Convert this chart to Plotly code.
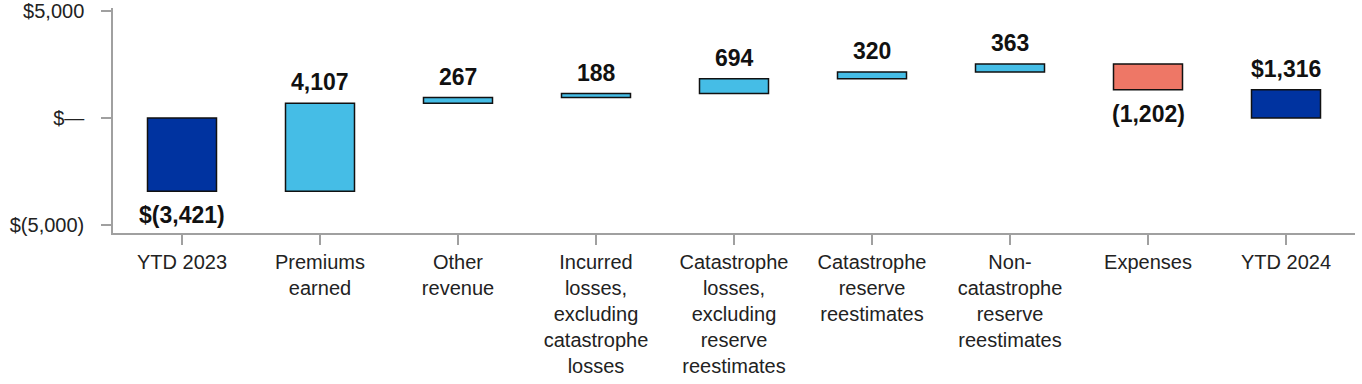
import plotly.graph_objects as go

categories = ["YTD 2023", "Premiums<br>earned", "Other<br>revenue",
              "Incurred<br>losses,<br>excluding<br>catastrophe<br>losses",
              "Catastrophe<br>losses,<br>excluding<br>reserve<br>reestimates",
              "Catastrophe<br>reserve<br>reestimates",
              "Non-<br>catastrophe<br>reserve<br>reestimates",
              "Expenses", "YTD 2024"]
values = [-3421, 4107, 267, 188, 694, 320, 363, -1202, 0]
measures = ["absolute", "relative", "relative", "relative", "relative",
            "relative", "relative", "relative", "total"]
labels = ["$(3,421)", "4,107", "267", "188", "694", "320", "363", "(1,202)", "$1,316"]
ytick_vals = [5000, 0, -5000]
ytick_text = ["$5,000", "$\u2014", "$(5,000)"]

FONT = "Liberation Sans, Arial, sans-serif"

fig = go.Figure(go.Waterfall(
    x=categories,
    y=values,
    measure=measures,
    width=0.5,
    increasing=dict(marker=dict(color="#45BDE6", line=dict(color="#111111", width=1.5))),
    decreasing=dict(marker=dict(color="#EE7766", line=dict(color="#111111", width=1.5))),
    totals=dict(marker=dict(color="#0033A0", line=dict(color="#111111", width=1.5))),
    connector=dict(visible=False),
    hoverinfo="skip",
))

# label positions derived from the data (bar start / end)
ends = []
run = 0
for v, m in zip(values, measures):
    if m == "absolute":
        start, run = 0, v
    elif m == "total":
        start = 0
    else:
        start, run = run, run + v
    ends.append((start, run))

for cat, (s, e), lab, m in zip(categories, ends, labels, measures):
    neg = (e < s) if m == "relative" else (e < 0)
    if neg:
        fig.add_annotation(x=cat, y=min(s, e), text=lab, showarrow=False,
                           yanchor="top", yshift=-9,
                           font=dict(family=FONT, size=23, color="#111111", weight="bold"))
    else:
        fig.add_annotation(x=cat, y=max(s, e), text=lab, showarrow=False,
                           yanchor="bottom", yshift=6,
                           font=dict(family=FONT, size=23, color="#111111", weight="bold"))

fig.update_layout(
    width=1362, height=384,
    margin=dict(l=113, r=7, t=8, b=151),
    paper_bgcolor="white", plot_bgcolor="white",
    showlegend=False,
    font=dict(family=FONT, size=20, color="#222222"),
)
fig.update_xaxes(
    showline=True, linecolor="#A0A0A0", linewidth=1.5,
    ticks="outside", ticklen=10, tickcolor="#A0A0A0", tickwidth=1.5,
    showgrid=False, range=[-0.5, 8.5], tickangle=0, automargin=False,
)
fig.update_yaxes(
    range=[-5374, 5140], showline=True, linecolor="#A0A0A0", linewidth=1.5,
    ticks="outside", ticklen=10, tickcolor="#A0A0A0", tickwidth=1.5,
    showgrid=False, zeroline=False, automargin=False,
    tickvals=ytick_vals, ticktext=ytick_text, ticklabelstandoff=13,
    ticklabeloverflow="allow",
)

fig.write_html("out.html", config={"displayModeBar": False},
               post_script="document.body.style.margin='0';")
